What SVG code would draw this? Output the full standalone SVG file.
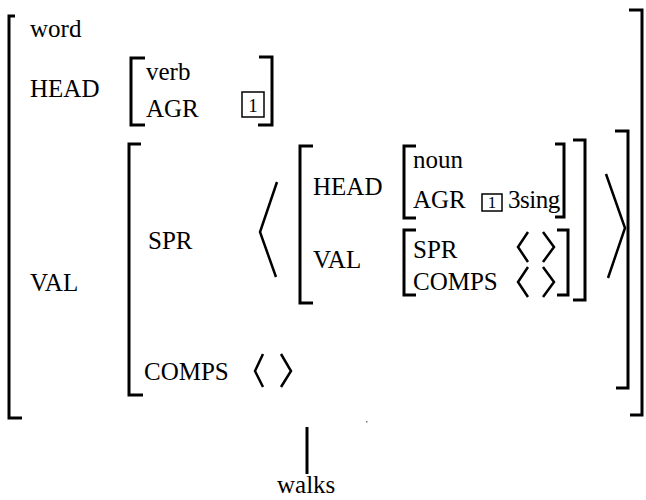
<svg xmlns="http://www.w3.org/2000/svg" width="646" height="500" viewBox="0 0 646 500">
<style>
text{font-family:"Liberation Serif","Times New Roman",serif;font-size:25px;fill:#000}
.br{fill:none;stroke:#000;stroke-width:3;stroke-linejoin:miter}
.ang{fill:none;stroke:#000;stroke-width:2.5;stroke-linejoin:miter}
.box{fill:none;stroke:#000;stroke-width:1.5}
.idx{font-size:19px}
.idx2{font-size:17px}
</style>
<rect width="646" height="500" fill="#fff"/>
<g id="outer">
<path class="br" d="M15,16 H9 V418 H22"/>
<path class="br" d="M629,10 H642 V415 H630"/>
<text x="30" y="37">word</text>
<text x="30" y="97">HEAD</text>
<text x="30" y="291">VAL</text>
</g>
<g id="head-verb">
<path class="br" d="M145,58 H131 V125 H145"/>
<path class="br" d="M259,57 H272 V125 H258"/>
<text x="146" y="80">verb</text>
<text x="146" y="117">AGR</text>
<rect class="box" x="242" y="92" width="22" height="25"/>
<text class="idx" x="253" y="112" text-anchor="middle">1</text>
</g>
<g id="val">
<path class="br" d="M141,144 H129 V395 H143"/>
<path class="br" d="M615,131 H628 V388 H616"/>
<text x="148" y="249">SPR</text>
<text x="144" y="380">COMPS</text>
<polyline class="ang" points="263,354 255,371 263,387"/>
<polyline class="ang" points="281,354 291,371 281,387"/>
<polyline class="ang" points="277,182 260,232 276,277"/>
<polyline class="ang" points="606,174 625,228 608,278"/>
</g>
<g id="spr-element">
<path class="br" d="M313,146 H300 V303 H313"/>
<path class="br" d="M573,140 H585 V300 H573"/>
<text x="313" y="195">HEAD</text>
<text x="313" y="268">VAL</text>
</g>
<g id="head-noun">
<path class="br" d="M416,146 H404 V218 H416"/>
<path class="br" d="M555,144 H564 V217 H555"/>
<text x="413" y="168">noun</text>
<text x="413" y="208">AGR</text>
<rect class="box" x="482" y="194" width="20" height="17"/>
<text class="idx2" x="492" y="208" text-anchor="middle">1</text>
<text x="508" y="208" letter-spacing="-0.5">3sing</text>
</g>
<g id="val-inner">
<path class="br" d="M416,230 H404 V295 H416"/>
<path class="br" d="M557,230 H568 V295 H557"/>
<text x="413" y="258">SPR</text>
<text x="413" y="290">COMPS</text>
<polyline class="ang" points="528,232 518,247 528,262"/>
<polyline class="ang" points="543,232 554,247 543,262"/>
<polyline class="ang" points="528,267 518,282 528,297"/>
<polyline class="ang" points="543,267 554,282 543,297"/>
</g>
<g id="connectors">
<line x1="307" y1="427" x2="307" y2="474" stroke="#000" stroke-width="3"/>
</g>
<g id="word-node">
<text x="277" y="493">walks</text>
</g>
<rect x="366" y="421" width="1.5" height="1.5" fill="#777"/>
</svg>
